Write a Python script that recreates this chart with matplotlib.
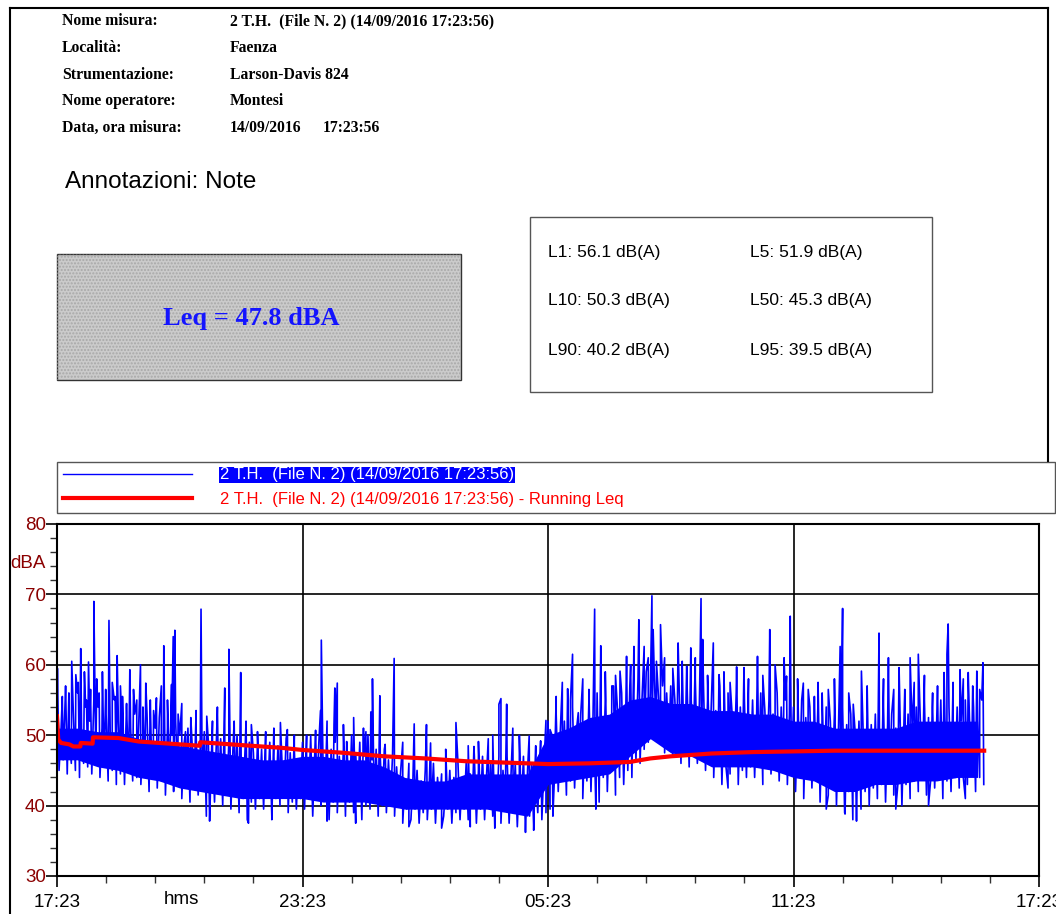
import numpy as np
import matplotlib
matplotlib.use('Agg')
import matplotlib.pyplot as plt
from matplotlib.patches import Rectangle
from matplotlib.lines import Line2D
from matplotlib.ticker import MultipleLocator

# Measurement info
measure_name = '2 T.H.  (File N. 2) (14/09/2016 17:23:56)'
header_labels = ['Nome misura:', 'Località:', 'Strumentazione:', 'Nome operatore:', 'Data, ora misura:']
header_values = [measure_name, 'Faenza', 'Larson-Davis 824', 'Montesi', '14/09/2016']
start_clock = '17:23:56'
notes = 'Annotazioni: Note'
leq_total = 47.8
stat_names = ['L1', 'L5', 'L10', 'L50', 'L90', 'L95']
stat_values = [56.1, 51.9, 50.3, 45.3, 40.2, 39.5]

# Sound level (dBA), one sample every 3 min from 17:23:56, peaks and troughs alternating
sample_step_h = 0.05
level_db = [
    53, 45, 51, 46.5, 55, 44.5, 50, 46, 53, 45, 56, 44, 51, 46, 54, 45.5, 52, 44.5, 55, 46,
    54, 44, 51, 45.5, 53, 43.5, 50.5, 45, 55, 43, 52, 44.5, 50, 43, 54, 45, 51, 43.5, 53, 44,
    52, 43, 50, 44.5, 53, 42, 49.5, 44, 51, 42.5, 52.5, 43.5, 49, 41.5, 51, 44, 50, 42, 52, 43,
    50, 41, 48.5, 43, 51, 40.5, 49, 42.5, 50, 41.5, 48, 43, 50.5, 38.5, 49, 42, 48, 40.5, 50, 42,
    49.5, 40, 47.5, 41.5, 49, 39.5, 48, 42, 50, 39, 47, 41, 48.5, 38, 49, 40.5, 47.5, 39.5, 49, 41,
    48, 39.5, 46.5, 41.5, 49, 38.5, 47, 41, 48.5, 40, 46, 41.5, 49.5, 39, 47.5, 40.5, 48, 39.5, 46.5, 41,
    49, 39.5, 47, 41, 50, 38.5, 47.5, 41.5, 49, 40, 46.5, 41, 50, 38, 48, 40.5, 49, 39, 47, 41,
    48, 38.5, 46.5, 40.5, 50, 39, 47.5, 41, 49, 38, 47, 40, 50, 39.5, 46.5, 41, 48, 38.5, 47, 40,
    48, 39, 46.5, 40.5, 47, 38.5, 45.5, 40, 45, 37.5, 43.5, 39.5, 46, 38, 44, 39.5, 45, 37.5, 43.5, 39,
    45, 38, 43.5, 39.5, 46, 37.5, 44, 40, 44.5, 38.5, 43, 39.5, 45, 37.5, 44, 39, 46, 38, 44, 39.5,
    46, 38, 44.5, 40, 47, 37.5, 45, 39.5, 47, 38, 44.5, 40, 46, 38.5, 44, 39.5, 47, 37.5, 45, 39.5,
    47, 37.5, 45, 39.5, 46, 37, 44.5, 39, 47, 36.5, 45, 38.5, 46, 37, 44, 39, 47, 38, 45.5, 39,
    52, 39.5, 50, 43, 53, 42, 50.5, 44, 52, 41.5, 51, 43.5, 54, 42.5, 51, 44, 53, 41, 50.5, 43.5,
    55, 42, 52.5, 44.5, 56, 40.5, 53, 44, 55, 42, 52, 45, 57, 41.5, 53.5, 44, 56, 43, 53, 45,
    57, 44, 55, 46.5, 58, 46, 55.5, 48, 59, 49, 56, 50.5, 58, 49.5, 55.5, 50, 57, 47.5, 56, 49,
    57, 47, 55, 48.5, 58, 46, 54.5, 48, 57, 45.5, 55, 47.5, 58, 46, 54.5, 47.5, 57, 45, 55, 47,
    56, 44, 53.5, 46, 57, 43, 54, 45.5, 56, 44.5, 53, 46, 56, 43, 54, 45, 55, 44, 53.5, 45.5,
    55, 44, 53, 46, 56, 43, 53.5, 45.5, 55, 44.5, 53, 46, 56, 43.5, 54, 45, 55, 43, 53, 45,
    54, 42, 52, 44, 55, 41, 52.5, 44.5, 54, 42.5, 52, 44, 55, 40.5, 52.5, 43.5, 54, 41.5, 52, 43.5,
    53, 40, 51, 42.5, 54, 39, 51.5, 42, 53, 38, 51, 41.5, 52, 39.5, 51, 42, 53, 40, 51.5, 42.5,
    53, 41, 51, 43, 54, 40.5, 51.5, 43.5, 53, 41.5, 51, 43, 54, 40, 52, 43, 53, 41, 51, 43.5,
    54, 42, 52, 44, 55, 41.5, 52.5, 43.5, 54, 42.5, 52, 44, 55, 41, 52.5, 43.5, 54, 42, 52, 44,
    54, 42.5, 52, 44, 55, 43, 52.5, 44.5, 54, 42, 52, 44, 55, 43,
]

# Dense part of the trace (where samples overlap), every 30 min
core_step_h = 0.5
core_low = [46.5, 46.5, 45.5, 45, 44, 43.5, 42.5, 42, 41.5, 41,
            41, 41, 41, 40.5, 40.5, 40.5, 40, 39.5, 39.5, 39.5,
            39.5, 39.5, 39, 38.5, 43, 43.5, 44, 44.5, 47, 49.5,
            47.5, 47, 45.5, 45.5, 45.5, 45, 44, 43.5, 42, 42,
            43, 43, 43.5, 43.5, 44, 44]
core_high = [51, 51, 50.5, 50.5, 49.5, 49, 48.5, 48, 47.5, 47,
             46.5, 46.5, 47, 47, 46.5, 46.5, 45.5, 44, 43.5, 43.5,
             44.5, 44.5, 44.5, 44.5, 50, 51, 52.5, 53, 55, 55.5,
             54.5, 54.5, 53.5, 53.5, 53, 53, 52, 52, 51, 51,
             51, 51, 52, 52, 52, 52]

# Loud noise events (hours after start, dBA)
event_hours = [0.01, 0.21, 0.36, 0.46, 0.58, 0.67, 0.77, 0.82, 0.90, 0.97,
               1.11, 1.19, 1.27, 1.35, 1.47, 1.60, 1.78, 1.95, 2.04, 2.17,
               2.43, 2.55, 2.61, 2.80, 2.84, 2.88, 3.14, 3.52, 3.66, 4.10,
               4.20, 4.49, 4.62, 4.90, 5.46, 5.63,
               6.32, 6.44, 6.46, 6.77, 6.79, 6.85, 7.08, 7.49, 7.67, 7.71,
               7.89, 8.02, 8.24, 8.73, 9.03, 9.13, 9.75, 10.19, 10.30, 10.54,
               10.80, 10.85, 10.99, 11.14, 11.54, 11.82, 11.95, 12.05, 12.48, 12.55,
               12.60, 12.74, 13.14, 13.29, 13.56, 13.76, 13.92, 14.10, 14.22, 14.35,
               14.45, 14.54, 14.57, 14.75, 15.18, 15.39, 15.49, 15.74, 15.78, 16.04,
               16.18, 16.61, 16.79, 17.12, 17.42, 17.77, 17.83, 17.92, 18.24, 18.36,
               18.51, 18.70, 18.85, 19.14, 19.20, 19.46, 19.66, 20.09, 20.32, 20.58,
               20.72, 20.85, 21.05, 21.52, 21.68, 21.75, 21.78, 22.07, 22.27, 22.48,
               22.63]
event_db = [59.5, 57.0, 60.5, 58.6, 62.3, 59.0, 60.4, 56.5, 69.0, 58.0,
            59.0, 56.5, 66.3, 57.5, 61.3, 55.5, 59.3, 55.0, 60.0, 57.4,
            55.3, 57.0, 62.7, 57.2, 64.0, 64.9, 50.5, 67.9, 52.7, 56.7,
            62.2, 58.9, 52.0, 50.5, 51.8, 50.8,
            50.7, 53.5, 63.5, 51.5, 56.7, 57.4, 49.1, 51.0, 53.3, 58.0,
            55.6, 48.7, 60.9, 51.6, 51.5, 48.9, 51.8, 48.4, 49.1, 49.5,
            54.4, 55.2, 54.4, 51.0, 49.9, 49.2, 52.1, 50.8, 56.6, 55.0,
            61.5, 53.2, 67.9, 62.7, 57.0, 59.1, 61.2, 62.6, 66.4, 62.6,
            61.0, 69.8, 65.0, 65.7, 63.1, 59.8, 62.4, 69.4, 63.6, 63.1,
            58.6, 59.7, 59.6, 61.2, 65.0, 61.0, 58.4, 66.9, 57.4, 56.5,
            55.5, 56.0, 56.5, 62.6, 68.0, 54.4, 59.1, 64.5, 61.0, 59.6,
            56.5, 61.0, 61.5, 57.0, 58.9, 61.5, 65.8, 59.3, 58.9, 59.1,
            60.3]

# Moderate peaks above the dense part
bump_hours = [0.13, 0.29, 0.52, 0.72, 1.03, 1.42, 1.55, 1.70, 1.87, 2.10,
              2.28, 2.36, 2.70, 2.96, 3.05, 3.27, 3.40, 3.80, 3.92, 4.33,
              4.75, 5.10, 5.30, 5.80, 6.10, 6.60, 7.00, 7.25, 7.55, 8.45,
              9.50, 10.05, 10.65, 11.30, 11.70, 12.20, 12.35, 12.85, 13.00, 13.40,
              13.65, 14.02, 14.65, 14.85, 15.05, 15.28, 15.60, 15.90, 16.30, 16.45,
              16.90, 17.25, 17.55, 18.10, 18.60, 19.00, 19.35, 19.80, 20.20, 20.45,
              20.95, 21.20, 21.40, 21.90, 22.15, 22.38, 22.55]
bump_db = [55.5, 56.0, 57.5, 55.0, 56.0, 55.5, 57.0, 54.5, 56.5, 54.0,
           55.0, 53.5, 55.0, 53.0, 54.5, 52.5, 53.5, 52.0, 54.0, 52.0,
           51.5, 50.5, 51.0, 50.0, 50.0, 52.0, 51.5, 52.5, 50.5, 49.0,
           48.0, 48.5, 50.0, 50.0, 48.5, 55.5, 57.5, 58.0, 56.5, 59.0,
           58.5, 60.0, 60.5, 61.0, 59.5, 60.5, 61.0, 58.5, 59.0, 57.5,
           58.0, 58.5, 60.0, 58.0, 57.5, 58.0, 56.0, 57.0, 58.0, 56.5,
           57.5, 58.5, 56.0, 57.5, 58.0, 57.0, 56.5]

# Quiet moments below the dense part
dip_hours = [3.73, 4.68, 5.25, 6.60, 7.30, 8.60, 9.40, 10.10, 10.70, 11.45,
             11.65, 12.12, 13.17, 16.40, 18.80, 19.26, 19.54, 20.50, 21.30, 22.20]
dip_db = [37.8, 37.5, 38.0, 37.8, 37.5, 37.0, 36.8, 37.0, 36.8, 36.2,
          36.5, 38.5, 39.5, 42.5, 39.5, 38.8, 37.8, 39.5, 40.0, 41.0]

# Running Leq
leq_hours = [0, 0.03, 0.1, 0.3, 0.4, 0.57, 0.58, 0.87, 0.88, 1.5,
             2.0, 2.5, 3.0, 3.49, 3.5, 4.0, 4.5, 5.0, 5.5, 6.0,
             7.0, 8.0, 9.0, 10.0, 11.0, 12.0, 13.0, 13.5, 14.0, 14.5,
             15.0, 16.0, 17.0, 18.0, 19.0, 20.0, 21.0, 22.0, 22.66]
leq_db = [52.7, 49.4, 48.9, 48.7, 48.4, 48.4, 48.9, 48.8, 49.7, 49.6,
          49.1, 48.9, 48.7, 48.5, 49.0, 48.8, 48.6, 48.4, 48.2, 47.9,
          47.5, 47.0, 46.7, 46.3, 46.1, 45.9, 46.0, 46.1, 46.2, 46.7,
          47.0, 47.4, 47.6, 47.7, 47.8, 47.8, 47.8, 47.8, 47.8]

x_tick_hours = [0, 6, 12, 18, 24]
x_tick_labels = ['17:23', '23:23', '05:23', '11:23', '17:23']

plt.rcParams['font.family'] = ['Liberation Sans', 'DejaVu Sans']
# keep every vertex of the dense trace
plt.rcParams['path.simplify'] = False
serif = ['Liberation Serif', 'DejaVu Serif']

W, H = 1056, 914
fig = plt.figure(figsize=(W / 100, H / 100), dpi=100)


def fx(px):
    return px / W


def fy(py):
    return 1 - py / H


# page frame
for xs, ys in [([10, 10], [8, 914]), ([10, 1048], [8, 8]), ([1048, 1048], [8, 461])]:
    fig.add_artist(Line2D([fx(v) for v in xs], [fy(v) for v in ys], color='black', lw=1.5))

# header block
header_rows = [25, 52, 79, 105, 132]
for lab, val, row in zip(header_labels, header_values, header_rows):
    fig.text(fx(62), fy(row), lab, family=serif, weight='bold', fontsize=11.3, va='baseline')
    fig.text(fx(230), fy(row), val, family=serif, weight='bold', fontsize=11.3, va='baseline')
fig.text(fx(323), fy(header_rows[-1]), start_clock, family=serif, weight='bold', fontsize=11.3, va='baseline')
fig.text(fx(65), fy(182), notes, fontsize=17.5, va='center')

# total Leq box
fig.add_artist(Rectangle((fx(57), fy(380)), fx(461) - fx(57), fy(254) - fy(380),
                         transform=fig.transFigure, facecolor='#cbcbcb', edgecolor='#333333', lw=1))
fig.add_artist(Rectangle((fx(57), fy(380)), fx(461) - fx(57), fy(254) - fy(380),
                         transform=fig.transFigure, facecolor='none', edgecolor='#a8a8a8', lw=0, hatch='.....'))
fig.text(fx(251), fy(318), f'Leq = {leq_total} dBA', family=serif, weight='bold', fontsize=19,
         color='#1414ff', ha='center', va='center')

# percentile levels box
fig.add_artist(Rectangle((fx(530), fy(392)), fx(932) - fx(530), fy(217) - fy(392),
                         transform=fig.transFigure, facecolor='white', edgecolor='#555555', lw=1))
stat_pos = [(548, 253), (750, 253), (548, 301), (750, 301), (548, 351), (750, 351)]
for name, val, (px, py) in zip(stat_names, stat_values, stat_pos):
    fig.text(fx(px), fy(py), f'{name}: {val:.1f} dB(A)', fontsize=12.5, va='center')

# time history
ax = fig.add_axes([fx(57), fy(876), fx(1039) - fx(57), fy(524) - fy(876)])
ax.set_axisbelow(True)

t_level = np.arange(len(level_db)) * sample_step_h
t_core = np.arange(len(core_low)) * core_step_h
t_all = np.concatenate([t_level, event_hours, bump_hours, dip_hours])
v_all = np.concatenate([level_db, event_db, bump_db, dip_db])
order = np.argsort(t_all, kind='stable')

ax.fill_between(t_core, core_low, core_high, color='#0000ff', lw=0)
blue, = ax.plot(t_all[order], v_all[order], color='#0000ff', lw=1.2, label=measure_name)
red, = ax.plot(leq_hours, leq_db, color='#ff0000', lw=3, label=measure_name + ' - Running Leq')

ax.set_xlim(0, 24)
ax.set_ylim(30, 80)
ax.set_xticks(x_tick_hours, x_tick_labels)
ax.xaxis.set_minor_locator(MultipleLocator(1.2))
ax.set_yticks(range(30, 81, 10))
ax.yaxis.set_minor_locator(MultipleLocator(2))
ax.tick_params(which='major', direction='out', length=8, width=1.2, color='black')
ax.tick_params(which='minor', direction='out', length=5, width=1, color='#333333')
ax.tick_params(axis='y', labelcolor='#8b0000', labelsize=13.5, pad=0)
ax.tick_params(axis='x', labelsize=13.5, pad=5)
ax.grid(True, which='major', color='black', lw=1.2)
for sp in ax.spines.values():
    sp.set_linewidth(1.5)
ax.text(-0.012, 0.889, 'dBA', transform=ax.transAxes, color='#8b0000', fontsize=13.5, ha='right', va='center')
ax.text(0.127, -0.068, 'hms', transform=ax.transAxes, fontsize=13.5, ha='center', va='center')

leg = ax.legend(handles=[blue, red], loc='lower left',
                bbox_to_anchor=(fx(57), fy(513), fx(1055) - fx(57), fy(461) - fy(513)),
                bbox_transform=fig.transFigure, mode='expand', borderaxespad=0,
                handlelength=7.74, handletextpad=1.68, fontsize=12, fancybox=False,
                edgecolor='#555555', framealpha=1, labelspacing=0.58, borderpad=0.35)
leg.get_frame().set_linewidth(1)
leg.get_lines()[0].set_linewidth(1.0)
leg_texts = leg.get_texts()
leg_texts[0].set_color('white')
leg_texts[0].set_bbox(dict(facecolor='#0000ff', edgecolor='none', pad=0.5))
leg_texts[1].set_color('#ff0000')

fig.savefig('out.png', dpi=100)
